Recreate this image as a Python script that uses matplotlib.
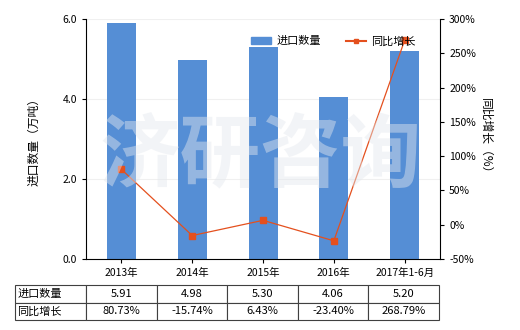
import numpy as np
import matplotlib
matplotlib.use("Agg")
import matplotlib.pyplot as plt
from matplotlib.lines import Line2D
from matplotlib.patches import Patch

plt.rcParams['font.family'] = ['Noto Sans CJK SC', 'DejaVu Sans']

categories = ["2013年", "2014年", "2015年", "2016年", "2017年1-6月"]
qty = [5.91, 4.98, 5.30, 4.06, 5.20]
growth = [80.73, -15.74, 6.43, -23.40, 268.79]
qty_labels = ["5.91", "4.98", "5.30", "4.06", "5.20"]
growth_labels = ["80.73%", "-15.74%", "6.43%", "-23.40%", "268.79%"]

bar_color = "#558ED5"
line_color = "#E4501E"
fs = 7.5

fig = plt.figure(figsize=(5.2, 3.3), dpi=100)
ax = fig.add_axes([0.1654, 0.215, 0.6808, 0.7276])
x = np.arange(len(categories))
ax.bar(x, qty, width=0.41, color=bar_color, zorder=2)
ax.set_xlim(-0.5, len(categories) - 0.5)
ax.set_ylim(0, 6)
ax.set_yticks([0, 2, 4, 6])
ax.set_yticklabels(["0.0", "2.0", "4.0", "6.0"])
ax.set_xticks(x)
ax.set_xticklabels(categories)
ax.grid(axis="y", color="#f0f0f0", lw=0.8, zorder=0)
ax.set_ylabel("进口数量（万吨）", fontsize=8.5, labelpad=16)
ax.tick_params(labelsize=fs, length=3, width=0.8)
for s in ["top", "right"]:
    ax.spines[s].set_visible(False)

ax2 = ax.twinx()
ax2.plot(x, growth, color=line_color, lw=0.9, marker="s", ms=4, zorder=3)
ax2.set_ylim(-50, 300)
ax2.set_yticks(range(-50, 301, 50))
ax2.set_yticklabels([f"{v}%" for v in range(-50, 301, 50)])
ax2.tick_params(labelsize=fs, length=3, width=0.8)
ax2.set_ylabel("同比增长（%）", rotation=270, labelpad=12, fontsize=8.5)
for s in ["top", "left", "bottom"]:
    ax2.spines[s].set_visible(False)

# watermark
fig.text(0.50, 0.52, "济研咨询", fontsize=58, color="#e4e8ee", alpha=0.45,
         ha="center", va="center", fontweight="bold", zorder=10)

handles = [Patch(color=bar_color, label="进口数量"),
           Line2D([], [], color=line_color, marker="s", ms=3, lw=1.5, label="同比增长")]
ax2.legend(handles=handles, loc="upper right", bbox_to_anchor=(0.96, 0.97), ncol=2,
           frameon=False, fontsize=8, handlelength=1.8, columnspacing=2.2,
           handletextpad=0.5)

# data table
cell_text = [["进口数量"] + qty_labels, ["同比增长"] + growth_labels]
tab = ax.table(cellText=cell_text, cellLoc="center",
               colWidths=[0.2006] + [0.1995] * 5,
               bbox=[-0.2006, -0.254, 1.1976, 0.146])
tab.auto_set_font_size(False)
tab.set_fontsize(8)
for (r, c), cell in tab.get_celld().items():
    cell.set_edgecolor("#404040")
    cell.set_linewidth(0.8)
    if c == 0:
        cell.get_text().set_ha("left")
        cell.PAD = 0.03

fig.savefig("out.png", dpi=100)
